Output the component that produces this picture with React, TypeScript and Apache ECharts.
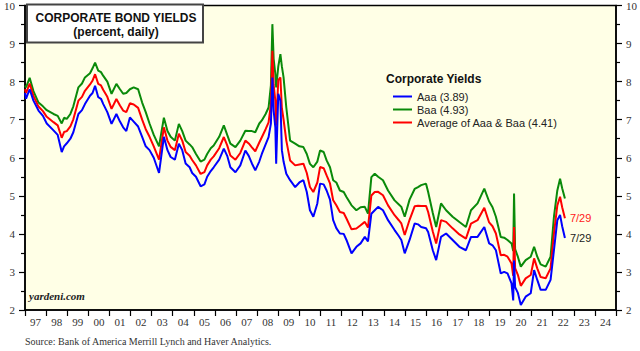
import React, { useEffect, useRef } from "react";
import * as echarts from "echarts";

// Dates as fractional years
const dates = [
  1997.0, 1997.05, 1997.22, 1997.4, 1997.64, 1997.85, 1998.03, 1998.35, 1998.55, 1998.74,
  1998.85, 1998.98, 1999.15, 1999.29, 1999.53, 1999.7, 1999.84, 2000.08, 2000.2, 2000.32,
  2000.47, 2000.6, 2000.71, 2000.9, 2001.1, 2001.33, 2001.5, 2001.65, 2001.8, 2001.97,
  2002.15, 2002.36, 2002.55, 2002.72, 2002.9, 2003.1, 2003.35, 2003.58, 2003.75, 2003.9,
  2004.1, 2004.29, 2004.45, 2004.61, 2004.8, 2004.92, 2005.1, 2005.32, 2005.5, 2005.63,
  2005.8, 2005.94, 2006.2, 2006.42, 2006.58, 2006.73, 2006.97, 2007.2, 2007.44, 2007.6,
  2007.75, 2007.91, 2008.1, 2008.22, 2008.4, 2008.54, 2008.65, 2008.72, 2008.78, 2008.86,
  2008.9, 2009.0, 2009.1, 2009.17, 2009.25, 2009.38, 2009.56, 2009.8, 2010.0, 2010.19,
  2010.35, 2010.5, 2010.66, 2010.85, 2010.98, 2011.15, 2011.29, 2011.45, 2011.6, 2011.75,
  2011.92, 2012.1, 2012.23, 2012.47, 2012.7, 2012.9, 2013.1, 2013.25, 2013.41, 2013.57,
  2013.73, 2013.96, 2014.2, 2014.51, 2014.7, 2014.83, 2014.99, 2015.22, 2015.46, 2015.62,
  2015.77, 2016.0, 2016.1, 2016.32, 2016.48, 2016.71, 2016.95, 2017.26, 2017.58, 2017.89,
  2018.13, 2018.44, 2018.76, 2018.99, 2019.15, 2019.31, 2019.54, 2019.7, 2019.86, 2020.05,
  2020.13, 2020.17, 2020.22, 2020.35, 2020.49, 2020.72, 2020.96, 2021.12, 2021.27, 2021.43,
  2021.67, 2021.9, 2022.06, 2022.22, 2022.35, 2022.45, 2022.58,
];

const aaa = [
  7.7, 7.55, 7.8, 7.5, 7.24, 7.1, 6.9, 6.72, 6.6, 6.15,
  6.3, 6.38, 6.5, 6.67, 7.15, 7.25, 7.41, 7.63, 7.7, 7.89,
  7.59, 7.55, 7.41, 7.2, 6.89, 7.15, 6.95, 6.8, 6.7, 7.06,
  6.95, 6.82, 6.55, 6.3, 6.2, 6.0, 5.6, 6.55, 6.2, 6.02,
  5.95, 6.37, 6.2, 5.85, 5.75, 5.6, 5.5, 5.25, 5.3, 5.5,
  5.65, 5.75, 5.95, 6.24, 6.05, 5.75, 5.62, 5.8, 6.19, 6.05,
  5.85, 5.67, 5.9, 6.1, 6.35, 6.54, 6.9, 8.11, 7.24, 6.8,
  5.84, 7.68, 7.5, 6.2, 5.9, 5.58, 5.41, 5.23, 5.35, 5.41,
  5.1, 4.62, 4.45, 4.8, 5.32, 5.3, 5.14, 4.9, 4.36, 4.15,
  4.01, 4.0, 3.84, 3.49, 3.66, 3.75, 3.92, 3.8, 4.53, 4.62,
  4.71, 4.62, 4.36, 4.1, 3.95, 3.84, 3.49, 3.84, 4.27, 4.25,
  4.18, 4.15, 4.05, 3.57, 3.31, 3.92, 4.01, 3.84, 3.66, 3.57,
  3.92, 3.92, 4.18, 3.75, 3.7, 3.57, 2.96, 3.0, 2.96, 2.7,
  2.25, 3.3, 2.6, 2.45, 2.13, 2.35, 2.44, 3.05, 2.79, 2.53,
  2.53, 2.79, 3.57, 4.36, 4.5, 4.2, 3.89,
];

const baa = [
  7.9, 7.85, 8.1, 7.75, 7.45, 7.35, 7.25, 7.15, 7.1, 6.9,
  7.05, 7.02, 7.15, 7.35, 7.85, 7.95, 8.11, 8.22, 8.35, 8.5,
  8.29, 8.25, 8.15, 8.0, 7.68, 7.94, 7.8, 7.68, 7.7, 7.8,
  7.85, 7.8, 7.45, 7.2, 6.9, 6.6, 6.3, 7.05, 6.7, 6.55,
  6.45, 6.89, 6.7, 6.45, 6.35, 6.28, 6.1, 5.9, 5.95, 6.1,
  6.25, 6.32, 6.55, 6.85, 6.6, 6.37, 6.28, 6.45, 6.71, 6.7,
  6.7, 6.67, 6.9, 6.98, 7.15, 7.32, 7.9, 9.51, 8.6, 8.2,
  7.85, 8.4, 8.72, 8.4, 8.11, 7.32, 6.45, 6.37, 6.3, 6.28,
  6.1, 5.84, 5.75, 5.9, 6.19, 6.15, 5.93, 5.75, 5.41, 5.35,
  5.14, 5.1, 4.97, 4.75, 4.62, 4.7, 4.71, 4.53, 5.49, 5.58,
  5.5, 5.41, 5.14, 4.88, 4.78, 4.71, 4.45, 4.9, 5.18, 5.23,
  5.28, 5.32, 5.1, 4.55, 4.18, 4.8, 4.62, 4.45, 4.31, 4.18,
  4.62, 4.8, 5.19, 4.85, 4.7, 4.45, 3.92, 3.9, 3.84, 3.75,
  3.55, 5.06, 3.6, 3.4, 3.14, 3.31, 3.4, 3.66, 3.4, 3.2,
  3.14, 3.4, 4.45, 5.14, 5.45, 5.2, 4.93,
];

const yearLabels = [
  "97", "98", "99", "00", "01", "02", "03", "04", "05", "06", "07", "08", "09", "10",
  "11", "12", "13", "14", "15", "16", "17", "18", "19", "20", "21", "22", "23", "24",
];

const avg = aaa.map((v, i) => Math.round(((v + baa[i]) / 2) * 1000) / 1000);

const last = (a: number[]) => a[a.length - 1];
const nameAaa = `Aaa (${last(aaa).toFixed(2)})`;
const nameBaa = `Baa (${last(baa).toFixed(2)})`;
const nameAvg = `Average of Aaa & Baa (${last(avg).toFixed(2)})`;

const SERIF = '"Liberation Serif", "Times New Roman", serif';
const SANS = '"Liberation Sans", Arial, sans-serif';

export default function App() {
  const ref = useRef<HTMLDivElement>(null);
  useEffect(() => {
    if (!ref.current) return;
    const chart = echarts.init(ref.current, undefined, { renderer: "svg" });
    const yAxisBase = (pos: "left" | "right") => ({
      type: "value",
      position: pos,
      min: 2,
      max: 10,
      interval: 1,
      axisLine: { show: true, lineStyle: { color: "#000", width: 1.5 } },
      axisTick: { show: true, inside: false, length: 6, lineStyle: { color: "#000", width: 1.2 } },
      minorTick: { show: true, splitNumber: 2, length: 4, lineStyle: { color: "#000", width: 1.2 } },
      splitLine: { show: false },
      axisLabel: { color: "#333", fontFamily: SERIF, fontSize: 11, margin: 10 },
    });
    const toPairs = (vals: number[]) => dates.map((d, i) => [d, vals[i]]);
    chart.setOption({
      animation: false,
      backgroundColor: "#fff",
      grid: {
        left: 25,
        right: 24,
        top: 4.5,
        bottom: 41,
        show: true,
        backgroundColor: "#FFFFE6",
        borderColor: "#000",
        borderWidth: 1.5,
      },
      xAxis: [
        {
          type: "category",
          data: yearLabels,
          boundaryGap: true,
          position: "bottom",
          axisLine: { show: true, lineStyle: { color: "#000", width: 1.5 } },
          axisTick: { show: true, inside: false, length: 6, interval: 0, lineStyle: { color: "#000", width: 1.2 } },
          axisLabel: { interval: 0, color: "#333", fontFamily: SERIF, fontSize: 11, margin: 6 },
          splitLine: { show: false },
        },
        { type: "value", min: 1997, max: 2025, show: false },
      ],
      yAxis: [yAxisBase("left"), yAxisBase("right")],
      legend: {
        data: [nameAaa, nameBaa, nameAvg],
        orient: "vertical",
        left: 388,
        top: 85,
        icon: "rect",
        itemWidth: 19,
        itemHeight: 2,
        itemGap: 0,
        textStyle: { fontFamily: SANS, fontSize: 11, color: "#222", lineHeight: 13 },
      },
      series: [
        {
          name: nameBaa,
          type: "line",
          xAxisIndex: 1,
          yAxisIndex: 0,
          data: toPairs(baa),
          showSymbol: false,
          symbol: "none",
          lineStyle: { color: "#0a8a0a", width: 2 },
          itemStyle: { color: "#0a8a0a" },
        },
        {
          name: nameAvg,
          type: "line",
          xAxisIndex: 1,
          yAxisIndex: 0,
          data: toPairs(avg),
          showSymbol: false,
          symbol: "none",
          lineStyle: { color: "#ff0000", width: 2 },
          itemStyle: { color: "#ff0000" },
          endLabel: {
            show: true,
            formatter: "7/29",
            color: "#ff2020",
            fontFamily: SANS,
            fontSize: 11,
            distance: 5,
          },
        },
        {
          name: nameAaa,
          type: "line",
          xAxisIndex: 1,
          yAxisIndex: 0,
          data: toPairs(aaa),
          showSymbol: false,
          symbol: "none",
          lineStyle: { color: "#0000ff", width: 2 },
          itemStyle: { color: "#0000ff" },
          endLabel: {
            show: true,
            formatter: "7/29",
            color: "#222",
            fontFamily: SANS,
            fontSize: 11,
            distance: 5,
          },
        },
      ],
      graphic: [
        {
          type: "rect",
          shape: { x: 27, y: 4.5, width: 176, height: 38 },
          style: { fill: "#fff", stroke: "#444", lineWidth: 2 },
          z: 100,
        },
        {
          type: "text",
          x: 116,
          y: 18,
          style: {
            text: "CORPORATE BOND YIELDS",
            font: `bold 12px ${SANS}`,
            fill: "#111",
            align: "center",
            verticalAlign: "middle",
          },
          z: 101,
        },
        {
          type: "text",
          x: 116,
          y: 32,
          style: {
            text: "(percent, daily)",
            font: `bold 12px ${SANS}`,
            fill: "#111",
            align: "center",
            verticalAlign: "middle",
          },
          z: 101,
        },
        {
          type: "text",
          x: 386,
          y: 79,
          style: {
            text: "Corporate Yields",
            font: `bold 12px ${SANS}`,
            fill: "#111",
            align: "left",
            verticalAlign: "middle",
          },
          z: 101,
        },
        {
          type: "text",
          x: 29,
          y: 296,
          style: {
            text: "yardeni.com",
            font: `bold italic 11px ${SERIF}`,
            fill: "#222",
            align: "left",
            verticalAlign: "middle",
          },
          z: 101,
        },
        {
          type: "text",
          x: 25,
          y: 341,
          style: {
            text: "Source: Bank of America Merrill Lynch and Haver Analytics.",
            font: `10px ${SERIF}`,
            fill: "#333",
            align: "left",
            verticalAlign: "middle",
          },
          z: 101,
        },
      ],
    });
    return () => chart.dispose();
  }, []);
  return (
    <div
      ref={ref}
      style={{ position: "fixed", left: 0, top: 0, width: 640, height: 351 }}
    />
  );
}
